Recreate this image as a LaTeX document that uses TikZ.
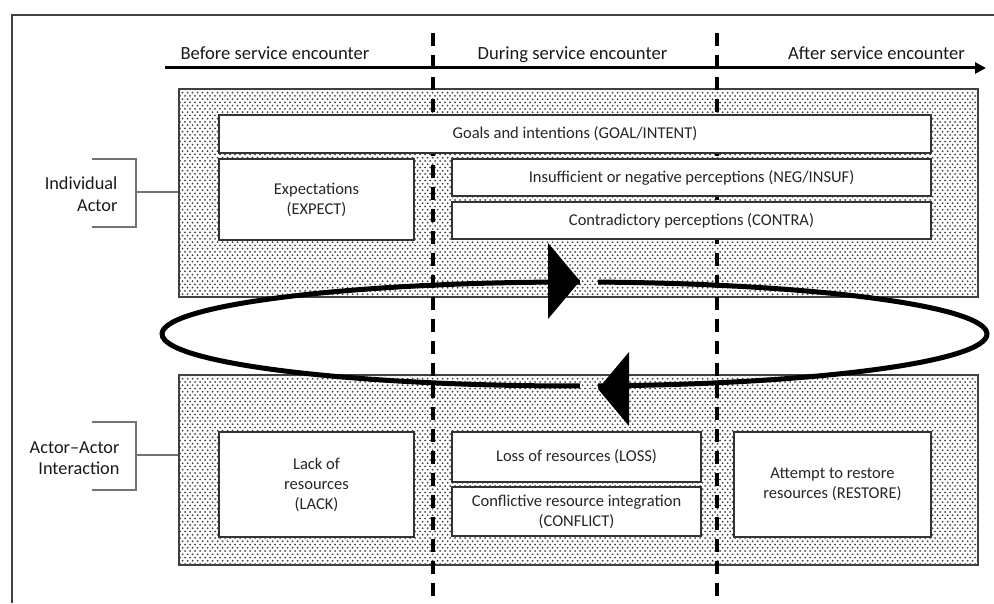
\documentclass[tikz,border=0pt]{standalone}
\usepackage{fontspec}
\setmainfont{Carlito}
\usetikzlibrary{patterns,arrows.meta,calc}
\pgfdeclarepatternformonly{refdots}{\pgfqpoint{-1.25pt}{-1.25pt}}{\pgfqpoint{3.75pt}{5.25pt}}{\pgfqpoint{5pt}{6.5pt}}{%
  \pgfpathcircle{\pgfqpoint{0pt}{0pt}}{1pt}%
  \pgfpathcircle{\pgfqpoint{2.5pt}{3.25pt}}{1pt}%
  \pgfusepath{fill}}
\tikzset{
  dotarea/.style={draw=black!75, line width=1.5pt, pattern=refdots, pattern color=black!75, inner sep=0pt},
  wbox/.style={draw=black!80, line width=1.5pt, fill=white, align=center, text=black!85,
    font=\fontsize{16.5}{20}\selectfont, inner sep=0pt},
  header/.style={font=\fontsize{18.6}{22}\selectfont, anchor=base, text=black!90},
  sidelab/.style={font=\fontsize{18.3}{21.5}\selectfont, align=right, anchor=east, text=black!90},
  brk/.style={draw=black!55, line width=1.1pt},
  period/.style={line width=3.2pt, dash pattern=on 13pt off 9pt},
  loopline/.style={line width=5pt},
  frameline/.style={draw=black!75, line width=1.4pt}
}
\begin{document}
\begin{tikzpicture}[x=1pt,y=1pt]
\useasboundingbox (0,0) rectangle (994,603);
% frame (only top and left edges visible)
\coordinate (ftl) at (12,588);
\coordinate (ftr) at (994,588);
\coordinate (fbl) at (12,0);
\draw[frameline] (ftr) -- (ftl) -- (fbl);

% dotted areas
\node[dotarea, minimum width=799pt, minimum height=208pt] (upper) at (578.5,410) {};
\node[dotarea, minimum width=799pt, minimum height=190pt] (lower) at (578.5,133) {};

% period separators
\coordinate (d1t) at (433,570); \coordinate (d1b) at (433,0);
\coordinate (d2t) at (717,570); \coordinate (d2b) at (717,0);
\draw[period] (d1t) -- (d1b);
\draw[period] (d2t) -- (d2b);

% time axis
\coordinate (axs) at (165,535);
\coordinate (axe) at (986,535);
\draw[line width=3pt, -{Triangle[length=11pt,width=11pt]}] (axs) -- (axe);
\node[header] (before) at (275,543) {Before service encounter};
\node[header] (during) at (572.5,543) {During service encounter};
\node[header] (after) at (876.5,543) {After service encounter};

% white boxes, individual actor
\node[wbox, minimum width=712pt, minimum height=38pt] (goal) at (575,469) {Goals and intentions (GOAL/INTENT)};
\node[wbox, minimum width=195pt, minimum height=81pt] (expect) at (316.5,403.5) {Expectations\\(EXPECT)};
\node[wbox, minimum width=479pt, minimum height=37pt] (neg) at (691.5,425.5) {Insufficient or negative perceptions (NEG/INSUF)};
\node[wbox, minimum width=479pt, minimum height=37pt] (contra) at (691.5,382.5) {Contradictory perceptions (CONTRA)};

% white boxes, actor-actor interaction
\node[wbox, minimum width=195pt, minimum height=105pt] (lack) at (316.5,118.5) {Lack of\\resources\\(LACK)};
\node[wbox, minimum width=249pt, minimum height=50pt] (loss) at (576.5,146) {Loss of resources (LOSS)};
\node[wbox, minimum width=249pt, minimum height=49pt] (conflict) at (576.5,91.5) {Conflictive resource integration\\(CONFLICT)};
\node[wbox, minimum width=197pt, minimum height=105pt] (restore) at (832.5,118.5) {Attempt to restore\\resources (RESTORE)};

% side labels with brackets
\node[sidelab] (ialab) at (121,409) {Individual\\Actor};
\coordinate (iat) at (136,444); \coordinate (iab) at (136,376); \coordinate (iam) at (136,411);
\draw[brk] ($(iat)+(-44,0)$) -- (iat) -- (iab) -- ($(iab)+(-44,0)$);
\draw[brk] (iam) -- (iam -| upper.west);

\node[sidelab] (aalab) at (123,145) {Actor--Actor\\Interaction};
\coordinate (aat) at (136,181); \coordinate (aab) at (136,113); \coordinate (aam) at (136,148);
\draw[brk] ($(aat)+(-44,0)$) -- (aat) -- (aab) -- ($(aab)+(-44,0)$);
\draw[brk] (aam) -- (aam -| lower.west);

% cycle ellipse
\coordinate (ec) at (574.5,269);
\draw[loopline] ($(ec)+(89.24:412.5pt and 52pt)$) arc[start angle=89.24, end angle=270.76, x radius=412.5pt, y radius=52pt];
\draw[loopline] ($(ec)+(-86.73:412.5pt and 52pt)$) arc[start angle=-86.73, end angle=86.73, x radius=412.5pt, y radius=52pt];
\fill (548,360) -- (580,322) -- (548,284) -- cycle;
\fill (629,251) -- (598,214) -- (629,177) -- cycle;
\end{tikzpicture}
\end{document}
